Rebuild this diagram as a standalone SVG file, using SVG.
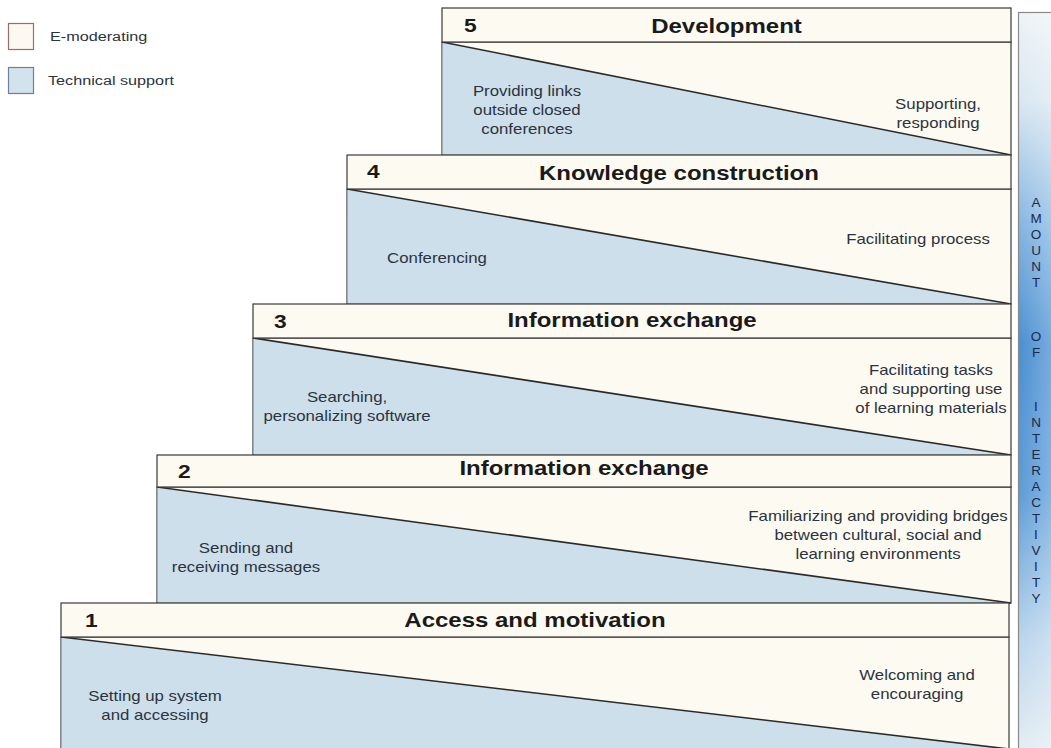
<svg xmlns="http://www.w3.org/2000/svg" width="1051" height="748" viewBox="0 0 1051 748">
<defs>
<linearGradient id="barg" x1="0" y1="0" x2="0" y2="1">
<stop offset="0" stop-color="#eef3f6"/>
<stop offset="0.12" stop-color="#d9e7f1"/>
<stop offset="0.3" stop-color="#7fb2e0"/>
<stop offset="0.45" stop-color="#4a8fd2"/>
<stop offset="0.65" stop-color="#5d9cd8"/>
<stop offset="0.85" stop-color="#bcd6ec"/>
<stop offset="1" stop-color="#e4edf3"/>
</linearGradient>
<linearGradient id="barh" x1="0" y1="0" x2="1" y2="0">
<stop offset="0" stop-color="#ffffff" stop-opacity="0"/>
<stop offset="1" stop-color="#ffffff" stop-opacity="0.25"/>
</linearGradient>
</defs>
<style>
.hdr{fill:#fdfaf1;stroke:#3a3a3a;stroke-width:1.2}
.body{fill:#fdfaf1;stroke:#3a3a3a;stroke-width:1.2}
.blue{fill:#cddfea;stroke:none}
.diag{stroke:#2a2a2a;stroke-width:1.6;fill:none}
.num{font-family:"Liberation Sans",Arial,sans-serif;font-weight:bold;font-size:19px;fill:#1a1a1a}
.ttl{font-family:"Liberation Sans",Arial,sans-serif;font-weight:bold;font-size:20px;fill:#1a1a1a;text-anchor:middle}
.txt{font-family:"Liberation Sans",Arial,sans-serif;font-size:14px;fill:#2b3340;text-anchor:middle}
.leg{font-family:"Liberation Sans",Arial,sans-serif;font-size:13.5px;fill:#2b3340}
.vl{font-family:"Liberation Sans",Arial,sans-serif;font-size:13.5px;fill:#1c2a4a;text-anchor:middle}
</style>
<rect width="1051" height="748" fill="#ffffff"/>

<g id="legend">
<rect x="8.5" y="23.5" width="25" height="26" fill="#fdf8f0" stroke="#9a6d6d" stroke-width="1.2"/>
<text class="leg" x="41.7" y="41" transform="scale(1.2,1)">E-moderating</text>
<rect x="8.5" y="67.5" width="25" height="26" fill="#d3e3ee" stroke="#6f7f95" stroke-width="1.2"/>
<text class="leg" x="40" y="85" transform="scale(1.2,1)">Technical support</text>
</g>

<g id="interactivity-bar">
<rect x="1018.5" y="12.5" width="40" height="740" fill="url(#barg)" stroke="#8a8a8a" stroke-width="1.2"/>
<rect x="1019" y="13" width="32" height="739" fill="url(#barh)"/>
<text class="vl"><tspan x="1036" y="207">A</tspan><tspan x="1036" dy="16">M</tspan><tspan x="1036" dy="16">O</tspan><tspan x="1036" dy="16">U</tspan><tspan x="1036" dy="16">N</tspan><tspan x="1036" dy="16">T</tspan><tspan x="1036" y="341">O</tspan><tspan x="1036" dy="16">F</tspan><tspan x="1036" y="411">I</tspan><tspan x="1036" dy="16">N</tspan><tspan x="1036" dy="16">T</tspan><tspan x="1036" dy="16">E</tspan><tspan x="1036" dy="16">R</tspan><tspan x="1036" dy="16">A</tspan><tspan x="1036" dy="16">C</tspan><tspan x="1036" dy="16">T</tspan><tspan x="1036" dy="16">I</tspan><tspan x="1036" dy="16">V</tspan><tspan x="1036" dy="16">I</tspan><tspan x="1036" dy="16">T</tspan><tspan x="1036" dy="16">Y</tspan></text>
</g>

<g id="step5">
<rect class="body" x="442" y="42" width="569" height="113"/>
<polygon class="blue" points="442.6,42.6 1010.4,154.4 442.6,154.4"/>
<line class="diag" x1="442" y1="42" x2="1011" y2="155"/>
<rect class="hdr" x="442" y="8" width="569" height="34"/>
<text class="num" x="386.7" y="32" transform="scale(1.2,1)">5</text>
<text class="ttl" x="605.4" y="33" transform="scale(1.2,1)">Development</text>
<text class="txt" x="439.2" y="96" transform="scale(1.2,1)">Providing links</text>
<text class="txt" x="439.2" y="115" transform="scale(1.2,1)">outside closed</text>
<text class="txt" x="439.2" y="134" transform="scale(1.2,1)">conferences</text>
<text class="txt" x="781.7" y="109" transform="scale(1.2,1)">Supporting,</text>
<text class="txt" x="781.7" y="128" transform="scale(1.2,1)">responding</text>
</g>

<g id="step4">
<rect class="body" x="347" y="189" width="664" height="115"/>
<polygon class="blue" points="347.6,189.6 1010.4,303.4 347.6,303.4"/>
<line class="diag" x1="347" y1="189" x2="1011" y2="304"/>
<rect class="hdr" x="347" y="155" width="664" height="34"/>
<text class="num" x="305.8" y="178" transform="scale(1.2,1)">4</text>
<text class="ttl" x="565.8" y="180" transform="scale(1.2,1)">Knowledge construction</text>
<text class="txt" x="364.2" y="263" transform="scale(1.2,1)">Conferencing</text>
<text class="txt" x="765" y="244" transform="scale(1.2,1)">Facilitating process</text>
</g>

<g id="step3">
<rect class="body" x="253" y="338" width="758" height="117"/>
<polygon class="blue" points="253.6,338.6 1010.4,454.4 253.6,454.4"/>
<line class="diag" x1="253" y1="338" x2="1011" y2="455"/>
<rect class="hdr" x="253" y="304" width="758" height="34"/>
<text class="num" x="228.3" y="328" transform="scale(1.2,1)">3</text>
<text class="ttl" x="526.7" y="327" transform="scale(1.2,1)">Information exchange</text>
<text class="txt" x="289.2" y="402" transform="scale(1.2,1)">Searching,</text>
<text class="txt" x="289.2" y="421" transform="scale(1.2,1)">personalizing software</text>
<text class="txt" x="775.8" y="375" transform="scale(1.2,1)">Facilitating tasks</text>
<text class="txt" x="775.8" y="394" transform="scale(1.2,1)">and supporting use</text>
<text class="txt" x="775.8" y="413" transform="scale(1.2,1)">of learning materials</text>
</g>

<g id="step2">
<rect class="body" x="157" y="487" width="854" height="116"/>
<polygon class="blue" points="157.6,487.6 1010.4,602.4 157.6,602.4"/>
<line class="diag" x1="157" y1="487" x2="1011" y2="603"/>
<rect class="hdr" x="157" y="455" width="854" height="32"/>
<text class="num" x="148.3" y="478" transform="scale(1.2,1)">2</text>
<text class="ttl" x="486.7" y="475" transform="scale(1.2,1)">Information exchange</text>
<text class="txt" x="205" y="553" transform="scale(1.2,1)">Sending and</text>
<text class="txt" x="205" y="572" transform="scale(1.2,1)">receiving messages</text>
<text class="txt" x="731.7" y="521" transform="scale(1.2,1)">Familiarizing and providing bridges</text>
<text class="txt" x="731.7" y="540" transform="scale(1.2,1)">between cultural, social and</text>
<text class="txt" x="731.7" y="559" transform="scale(1.2,1)">learning environments</text>
</g>

<g id="step1">
<rect class="body" x="61" y="637" width="948" height="120"/>
<polygon class="blue" points="61.6,637.6 1008.4,749 61.6,756"/>
<line class="diag" x1="61" y1="637" x2="1009" y2="749"/>
<rect class="hdr" x="61" y="603" width="948" height="34"/>
<text class="num" x="70.8" y="627" transform="scale(1.2,1)">1</text>
<text class="ttl" x="445.8" y="627" transform="scale(1.2,1)">Access and motivation</text>
<text class="txt" x="129.2" y="701" transform="scale(1.2,1)">Setting up system</text>
<text class="txt" x="129.2" y="720" transform="scale(1.2,1)">and accessing</text>
<text class="txt" x="764.2" y="680" transform="scale(1.2,1)">Welcoming and</text>
<text class="txt" x="764.2" y="699" transform="scale(1.2,1)">encouraging</text>
</g>

<g id="connectors"></g>
</svg>
